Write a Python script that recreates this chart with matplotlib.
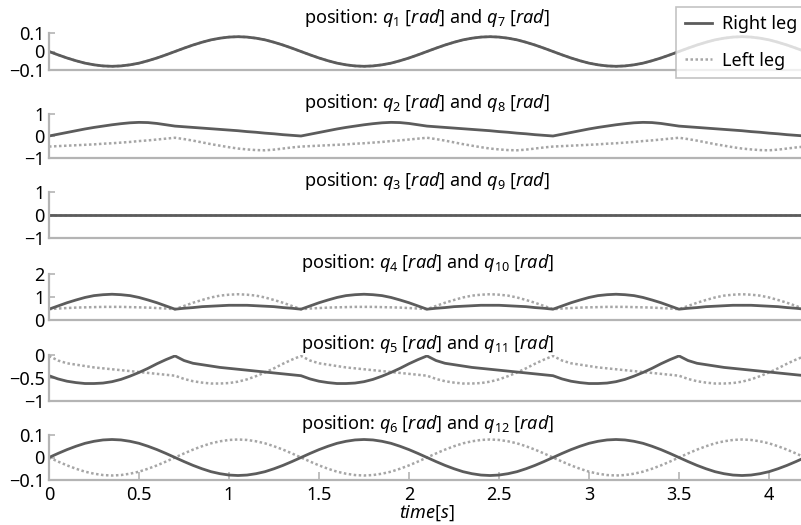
import numpy as np
import matplotlib
matplotlib.use("Agg")
import matplotlib.pyplot as plt

plt.rcParams['font.family'] = ['Noto Sans', 'DejaVu Sans']
plt.rcParams['mathtext.fontset'] = 'custom'
plt.rcParams['mathtext.rm'] = 'Noto Sans'
plt.rcParams['mathtext.it'] = 'Noto Sans:italic'
plt.rcParams['mathtext.bf'] = 'Noto Sans:bold'

# one gait cycle (0 .. 1.35 s, every 0.05 s)
dt = 0.05
n_cycles = 3

q1_right = [0.00, -0.018, -0.035, -0.050, -0.063, -0.072, -0.078, -0.080, -0.078, -0.072, -0.063, -0.050, -0.035, -0.018,
            0.00, 0.018, 0.035, 0.050, 0.063, 0.072, 0.078, 0.080, 0.078, 0.072, 0.063, 0.050, 0.035, 0.018]
q7_left = list(q1_right)

q2_right = [0.00, 0.08, 0.16, 0.24, 0.32, 0.39, 0.45, 0.51, 0.56, 0.60, 0.62, 0.61, 0.57, 0.51,
            0.45, 0.42, 0.39, 0.36, 0.33, 0.30, 0.27, 0.24, 0.20, 0.17, 0.13, 0.10, 0.06, 0.03]
q8_left = [-0.48, -0.46, -0.44, -0.42, -0.40, -0.38, -0.35, -0.33, -0.30, -0.27, -0.23, -0.20, -0.16, -0.12,
           -0.08, -0.14, -0.21, -0.29, -0.37, -0.44, -0.51, -0.57, -0.61, -0.64, -0.65, -0.62, -0.57, -0.52]

q3_right = [0.0] * 28
q9_left = [0.0] * 28

q4_right = [0.47, 0.61, 0.75, 0.87, 0.98, 1.06, 1.10, 1.12, 1.10, 1.06, 0.98, 0.87, 0.75, 0.61,
            0.47, 0.51, 0.54, 0.58, 0.60, 0.62, 0.64, 0.64, 0.64, 0.62, 0.60, 0.58, 0.54, 0.51]
q10_left = [0.47, 0.50, 0.52, 0.54, 0.55, 0.56, 0.57, 0.57, 0.57, 0.56, 0.55, 0.54, 0.52, 0.50,
            0.47, 0.61, 0.75, 0.87, 0.98, 1.06, 1.10, 1.12, 1.10, 1.06, 0.98, 0.87, 0.75, 0.61]

q5_right = [-0.45, -0.52, -0.57, -0.60, -0.62, -0.62, -0.61, -0.58, -0.53, -0.46, -0.38, -0.29, -0.19, -0.10,
            -0.02, -0.12, -0.18, -0.21, -0.24, -0.27, -0.29, -0.31, -0.33, -0.35, -0.37, -0.39, -0.41, -0.43]
q11_left = [-0.02, -0.12, -0.18, -0.21, -0.24, -0.27, -0.29, -0.31, -0.33, -0.35, -0.37, -0.39, -0.41, -0.43,
            -0.45, -0.52, -0.57, -0.60, -0.62, -0.62, -0.61, -0.58, -0.53, -0.46, -0.38, -0.29, -0.19, -0.10]

q6_right = [0.00, 0.018, 0.035, 0.050, 0.063, 0.072, 0.078, 0.080, 0.078, 0.072, 0.063, 0.050, 0.035, 0.018,
            0.00, -0.018, -0.035, -0.050, -0.063, -0.072, -0.078, -0.080, -0.078, -0.072, -0.063, -0.050, -0.035, -0.018]
q12_left = [-v for v in q6_right]

titles = [r'position: $q_1$ [$rad$] and $q_7$ [$rad$]',
          r'position: $q_2$ [$rad$] and $q_8$ [$rad$]',
          r'position: $q_3$ [$rad$] and $q_9$ [$rad$]',
          r'position: $q_4$ [$rad$] and $q_{10}$ [$rad$]',
          r'position: $q_5$ [$rad$] and $q_{11}$ [$rad$]',
          r'position: $q_6$ [$rad$] and $q_{12}$ [$rad$]']
right_series = [q1_right, q2_right, q3_right, q4_right, q5_right, q6_right]
left_series = [q7_left, q8_left, q9_left, q10_left, q11_left, q12_left]
ylims = [(-0.1, 0.1), (-1, 1), (-1, 1), (0, 2), (-1, 0), (-0.1, 0.1)]
yticks = [[-0.1, 0, 0.1], [-1, 0, 1], [-1, 0, 1], [0, 1, 2], [-1, -0.5, 0], [-0.1, 0, 0.1]]
xticks = [0, 0.5, 1, 1.5, 2, 2.5, 3, 3.5, 4]

def full(cycle):
    a = np.array(cycle)
    return np.append(np.tile(a, n_cycles), a[0])

def lab(v):
    return f'{v:g}'.replace('-', '\u2212')

t = np.arange(len(q1_right) * n_cycles + 1) * dt

W, H = 801, 525
fig = plt.figure(figsize=(W / 100, H / 100), dpi=100)

# panel extents in pixels (top, bottom)
panel_px = [(33, 70), (114, 158), (192, 238), (274, 320), (355, 401), (435, 480)]
left_px, right_px = 49, 805

spine_c = '#b4b4b4'
right_c = '#5c5c5c'
left_c = '#a6a6a6'
fs = 13

axes = []
for i, (top, bot) in enumerate(panel_px):
    ax = fig.add_axes([left_px / W, 1 - bot / H, (right_px - left_px) / W, (bot - top) / H])
    ax.plot(t, full(left_series[i]), color=left_c, lw=1.8, ls=(0, (1, 1)), label='Left leg')
    ax.plot(t, full(right_series[i]), color=right_c, lw=2.0, label='Right leg')
    ax.set_xlim(0, 4.2)
    ax.set_ylim(*ylims[i])
    ax.set_yticks(yticks[i])
    ax.set_yticklabels([lab(v) for v in yticks[i]])
    ax.set_xticks(xticks)
    ax.set_xticklabels([lab(v) for v in xticks])
    for s in ['top', 'right']:
        ax.spines[s].set_visible(False)
    for s in ['left', 'bottom']:
        ax.spines[s].set_color(spine_c)
        ax.spines[s].set_linewidth(1.6)
    ax.tick_params(direction='in', length=4, width=1.2, color=spine_c,
                   labelsize=fs, pad=3)
    if i < 5:
        ax.tick_params(axis='x', length=0, labelbottom=False)
    else:
        ax.tick_params(axis='x', length=6, pad=4)
    ax.set_title(titles[i], fontsize=fs, pad=4 if i else 7)
    ax.patch.set_visible(False)
    axes.append(ax)

axes[-1].set_xlabel(r'$time[s]$', fontsize=fs, labelpad=0)

h, l = axes[0].get_legend_handles_labels()
leg = fig.legend(h[::-1], l[::-1], loc='upper right', bbox_to_anchor=(1.006, 0.986),
                 fontsize=fs, frameon=True, fancybox=False, labelspacing=1.0,
                 handlelength=1.5, handletextpad=0.6, borderpad=0.45, borderaxespad=0)
leg.get_frame().set_edgecolor('#b4b4b4')
leg.get_frame().set_linewidth(1.2)

fig.savefig('out.png', dpi=100)
